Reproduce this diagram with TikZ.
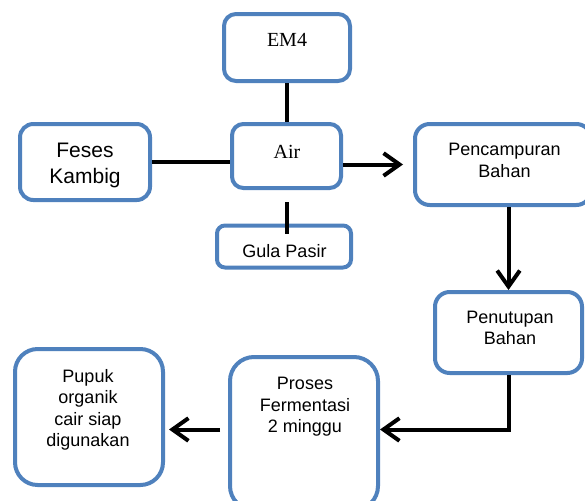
\documentclass[tikz,border=0pt]{standalone}
\usepackage{fontspec}
\setmainfont{Liberation Serif}
\setsansfont{Liberation Sans}
\usetikzlibrary{arrows.meta,positioning}
\definecolor{BoxBlue}{HTML}{4F81BD}

\begin{document}
\begin{tikzpicture}[x=0.75pt,y=-0.75pt,
  box/.style={draw=BoxBlue,line width=3pt,fill=white,rounded corners=#1,inner sep=0pt},
  txt/.style={align=center,inner sep=0pt,font=\sffamily\fontsize{13.5}{16}\selectfont},
  serif/.style={inner sep=0pt,font=\rmfamily\fontsize{15}{18}\selectfont},
  link/.style={line width=3pt},
  flow/.style={line width=3pt,-{Straight Barb[length=12pt,width=17pt]}}]
\clip (0,0) rectangle (585,500);
\node[box=9pt,minimum width=94.5pt,minimum height=50.25pt] (em4) at (287,47.5) {};
\node[box=8.5pt,minimum width=81.75pt,minimum height=48pt] (air) at (286.5,156) {};
\node[box=10pt,minimum width=97.5pt,minimum height=57pt] (feses) at (85,162) {};
\node[box=6pt,minimum width=100.5pt,minimum height=31.5pt] (gula) at (284,246.5) {};
\node[box=11pt,minimum width=132pt,minimum height=60.75pt] (campur) at (503,164.5) {};
\node[box=11pt,minimum width=110.25pt,minimum height=60.75pt] (tutup) at (508.5,332.5) {};
\node[box=18pt,minimum width=111pt,minimum height=114.75pt] (proses) at (304,433.5) {};
\node[box=17pt,minimum width=111pt,minimum height=102pt] (pupuk) at (89,417) {};

\draw[link] (em4.south) -- (em4.south |- air.north);
\draw[link] (feses.east) -- (feses.east -| air.west);
\draw[link] ([yshift=-9pt]air.south) -- ([yshift=-7.5pt]gula.north -| air.south);
\draw[flow] (air.east |- campur.west) -- ([xshift=-7.5pt]campur.west);
\draw[flow] (campur.south -| tutup.north) -- (tutup.north);
\draw[flow] (tutup.south) |- ([yshift=3pt]proses.east);
\draw[flow] ([xshift=-6pt,yshift=3pt]proses.west) -- ([xshift=3pt,yshift=3pt]proses.west -| pupuk.east);

\node[serif] (em4txt) at (287,40) {EM4};
\node[serif] (airtxt) at (287,152) {Air};
\node[txt,font=\sffamily\fontsize{15.75}{19.5}\selectfont] (fesestxt) at (85,165) {Feses\\Kambig};
\node[txt] (gulatxt) at (284.5,251.5) {Gula Pasir};
\node[txt] (campurtxt) at (504.5,160.5) {Pencampuran\\Bahan};
\node[txt] (tutuptxt) at (510,328) {Penutupan\\Bahan};
\node[txt] (prosestxt) at (305,407) {Proses\\Fermentasi\\2 minggu};
\node[txt] (pupuktxt) at (88,410) {Pupuk\\organik\\cair siap\\digunakan};
\end{tikzpicture}
\end{document}
